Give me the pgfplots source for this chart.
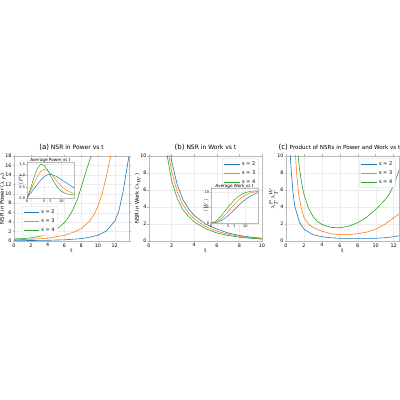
\documentclass[border=0pt]{standalone}
\usepackage{pgfplots}
\pgfplotsset{compat=1.18}
\usepackage{fontspec}
\setmainfont{DejaVu Sans}
\definecolor{cb}{HTML}{1F77B4}
\definecolor{co}{HTML}{FF7F0E}
\definecolor{cg}{HTML}{2CA02C}

\pgfplotsset{
  myax/.style={
    scale only axis,
    axis line style={gray!55, line width=0.8pt},
    grid=major, grid style={gray!15, line width=0.3pt},
    tick align=outside, major tick length=1.5pt,
    tick style={gray!60, line width=0.4pt},
    ticklabel style={font=\fontsize{4.8}{5}\selectfont, inner sep=0.8pt},
    label style={font=\fontsize{5.3}{6}\selectfont},
    xlabel style={yshift=3pt},
    ylabel style={yshift=-4.5pt},
    /pgf/number format/assume math mode=true,
    every axis plot/.append style={line width=0.6pt, no marks},
    legend style={font=\fontsize{5}{5.5}\selectfont, draw=gray!30, rounded corners=1pt,
      inner sep=1.2pt, row sep=-0.5pt, fill=white},
    legend cell align=left,
    legend image post style={xscale=0.9},
    title style={font=\fontsize{6}{7}\selectfont, yshift=-4pt},
    axis background/.style={fill=white},
  },
  inset/.style={
    myax,
    ticklabel style={font=\fontsize{3.5}{4}\selectfont, inner sep=0.8pt},
    label style={font=\fontsize{4}{4}\selectfont},
    xlabel style={yshift=4pt},
    ylabel style={yshift=-4pt},
    title style={font=\fontsize{4.2}{5}\selectfont, yshift=-5.5pt},
    major tick length=1pt,
    axis line style={gray!55, line width=0.6pt},
    every axis plot/.append style={line width=0.5pt, no marks},
  },
}

\begin{document}
\begin{tikzpicture}
\path[use as bounding box] (0,0) rectangle (400pt,400pt);

% (a) NSR in power
\begin{axis}[myax, at={(14pt,159pt)}, anchor=south west, width=115pt, height=85pt,
  xmin=0, xmax=13.7, ymin=0, ymax=18,
  xtick={0,2,...,12}, ytick={0,2,...,18},
  xlabel={t}, ylabel={NSR in Power ($\lambda_P$)},
  title={{\fontsize{7}{7}\selectfont(a)} NSR in Power vs t},
  legend style={at={(0.07,0.06)}, anchor=south west}]
\addplot[cb] coordinates {(0,0.08)(2,0.1)(4,0.15)(6,0.25)(8,0.5)(9,0.8)(10,1.2)(11,2.1)(12,4.2)(12.5,6.4)(13,10.5)(13.4,14.8)(13.7,18)};
\addplot[co] coordinates {(0,0.28)(2,0.35)(4,0.6)(6,1.2)(7,1.8)(8,2.6)(9,4.2)(9.5,5.5)(10,7.4)(10.5,10)(11,13.6)(11.4,17)(11.6,18.5)};
\addplot[cg] coordinates {(0,0.45)(1,0.5)(2,0.65)(3,0.95)(4,1.4)(5,2.3)(6,3.9)(6.5,5.0)(7,6.6)(7.5,8.6)(8,11.3)(8.5,14.3)(9,17)(9.3,18.5)};
\legend{s = 2, s = 3, s = 4}
\end{axis}

\begin{axis}[inset, at={(27pt,202pt)}, anchor=south west, width=47pt, height=36pt,
  xmin=0, xmax=13.7, ymin=0, ymax=1.6,
  xtick={0,5,10}, ytick={0,0.5,1,1.5},
  yticklabel style={/pgf/number format/.cd, fixed, fixed zerofill, precision=1},
  xlabel={t}, ylabel={$\langle P\rangle$},
  title={Average Power vs t}]
\addplot[cb] coordinates {(0,0)(1,0.2)(2,0.4)(3,0.6)(4,0.8)(5,0.95)(6,1.04)(7,1.05)(8,1.0)(9,0.92)(10,0.82)(11,0.72)(12,0.62)(13,0.52)(13.7,0.45)};
\addplot[co] coordinates {(0,0)(1,0.3)(2,0.65)(3,0.95)(4,1.18)(5,1.27)(6,1.22)(7,1.08)(8,0.9)(9,0.7)(10,0.53)(11,0.4)(12,0.3)(13,0.24)(13.7,0.2)};
\addplot[cg] coordinates {(0,0)(1,0.4)(2,0.9)(3,1.3)(4,1.5)(5,1.45)(6,1.25)(7,0.95)(8,0.68)(9,0.45)(10,0.3)(11,0.22)(12,0.17)(13,0.15)(13.7,0.14)};
\end{axis}

% (b) NSR in work
\begin{axis}[myax, at={(149pt,159pt)}, anchor=south west, width=113pt, height=85pt,
  xmin=0, xmax=10, ymin=0, ymax=10,
  xtick={0,2,...,10}, ytick={0,2,...,10},
  xlabel={t}, ylabel={NSR in Work ($\lambda_W$)},
  title={{\fontsize{7}{7}\selectfont(b)} NSR in Work vs t},
  legend pos=north east]
\addplot[cb] coordinates {(1.8,11)(1.95,10)(2,9.4)(2.5,6.6)(3,4.9)(3.5,3.8)(4,3.0)(5,2.0)(6,1.4)(7,0.95)(8,0.65)(9,0.45)(10,0.33)};
\addplot[co] coordinates {(1.7,10.5)(2,8.2)(2.5,5.8)(3,4.3)(3.5,3.3)(4,2.6)(5,1.7)(6,1.15)(7,0.8)(8,0.55)(9,0.38)(10,0.27)};
\addplot[cg] coordinates {(1.55,10.5)(2,7.1)(2.5,5.0)(3,3.7)(3.5,2.9)(4,2.25)(5,1.45)(6,0.95)(7,0.65)(8,0.45)(9,0.32)(10,0.22)};
\legend{s = 2, s = 3, s = 4}
\end{axis}

\begin{axis}[inset, at={(211pt,177pt)}, anchor=south west, width=47pt, height=35pt,
  xmin=0, xmax=13.7, ymin=0, ymax=11.2,
  xtick={0,5,10}, ytick={0,5,10},
  xlabel={t}, ylabel={$\langle W\rangle$},
  title={Average Work vs t}]
\addplot[cb] coordinates {(0,0)(1,0.05)(2,0.3)(3,0.8)(4,1.5)(5,2.4)(6,3.4)(7,4.5)(8,5.6)(9,6.6)(10,7.5)(11,8.3)(12,8.9)(13,9.4)(13.7,9.7)};
\addplot[co] coordinates {(0,0)(1,0.15)(2,0.6)(3,1.4)(4,2.5)(5,3.7)(6,5.0)(7,6.2)(8,7.3)(9,8.2)(10,8.9)(11,9.4)(12,9.8)(13,10.0)(13.7,10.1)};
\addplot[cg] coordinates {(0,0)(1,0.3)(2,1.1)(3,2.3)(4,3.7)(5,5.1)(6,6.4)(7,7.6)(8,8.5)(9,9.2)(10,9.7)(11,10.0)(12,10.2)(13,10.3)(13.7,10.3)};
\end{axis}

% (c) product
\begin{axis}[myax, at={(286pt,159pt)}, anchor=south west, width=113pt, height=85pt,
  xmin=0, xmax=12.6, ymin=0, ymax=10,
  xtick={0,2,...,12}, ytick={0,2,...,10},
  xlabel={t}, ylabel={$\lambda_T^{P}\lambda_T^{W}$},
  title={{\fontsize{7}{7}\selectfont(c)} Product of NSRs in Power and Work vs t},
  title style={font=\fontsize{5.6}{6.5}\selectfont, xshift=-3pt},
  legend pos=north east]
\addplot[cb] coordinates {(0.45,10.5)(0.6,8)(0.8,5.5)(1,4.0)(1.5,2.2)(2,1.4)(3,0.75)(4,0.5)(5,0.38)(6,0.32)(7,0.3)(8,0.3)(9,0.3)(10,0.32)(11,0.38)(12,0.5)(12.6,0.62)};
\addplot[co] coordinates {(1.05,10.2)(1.2,7.8)(1.4,5.6)(1.7,3.8)(2,2.8)(2.5,2.0)(3,1.6)(4,1.15)(5,0.85)(6,0.75)(7,0.75)(8,0.85)(9,1.05)(10,1.4)(11,1.95)(12,2.7)(12.6,3.2)};
\addplot[cg] coordinates {(1.3,10.5)(1.5,8.5)(1.75,6.8)(2,5.5)(2.5,3.9)(3,2.9)(3.5,2.3)(4,1.95)(5,1.6)(6,1.55)(7,1.75)(8,2.15)(9,2.8)(10,3.7)(11,4.8)(11.5,5.5)(12,6.5)(12.6,8.3)};
\legend{s = 2, s = 3, s = 4}
\end{axis}
\end{tikzpicture}
\end{document}
